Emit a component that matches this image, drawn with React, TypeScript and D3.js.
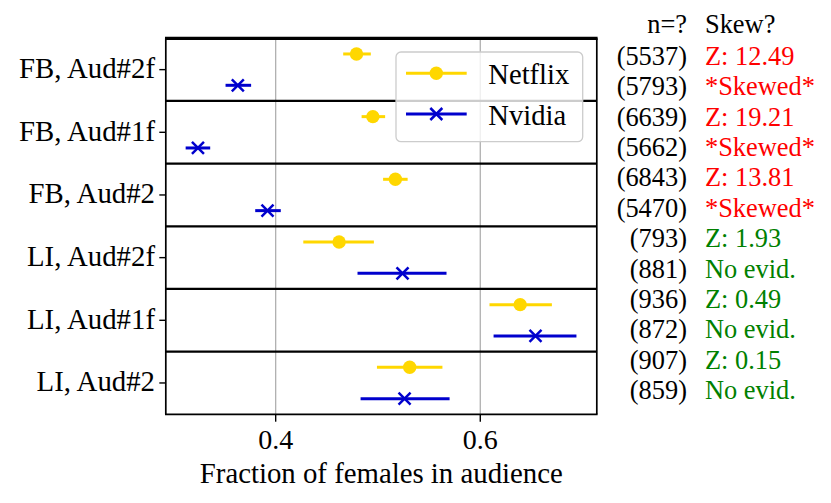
import React from "react";
import * as d3 from "d3";

const categories = ["FB, Aud#2f", "FB, Aud#1f", "FB, Aud#2", "LI, Aud#2f", "LI, Aud#1f", "LI, Aud#2"];
const netflixMean = [0.479, 0.495, 0.517, 0.462, 0.639, 0.531];
const netflixLo = [0.466, 0.484, 0.505, 0.427, 0.609, 0.499];
const netflixHi = [0.493, 0.507, 0.529, 0.496, 0.670, 0.563];
const nvidiaMean = [0.363, 0.324, 0.392, 0.524, 0.654, 0.526];
const nvidiaLo = [0.351, 0.312, 0.380, 0.480, 0.613, 0.483];
const nvidiaHi = [0.376, 0.336, 0.405, 0.567, 0.694, 0.570];
const netflixN = ["5537", "6639", "6843", "793", "936", "907"];
const nvidiaN = ["5793", "5662", "5470", "881", "872", "859"];
const zScores = ["12.49", "19.21", "13.81", "1.93", "0.49", "0.15"];
const verdicts = ["*Skewed*", "*Skewed*", "*Skewed*", "No evid.", "No evid.", "No evid."];
const skewed = [true, true, true, false, false, false];
const xTicks = [0.4, 0.6];
const seriesNames = ["Netflix", "Nvidia"];

const W = 831;
const H = 503;
const FONT = "'Liberation Serif', 'Times New Roman', serif";
const NETFLIX = "#ffd700";
const NVIDIA = "#0000cd";

export default function App() {
  const left = 165.8, right = 596.8, top = 38.3, bottom = 414.3;
  const x = d3.scaleLinear().domain([0.2926, 0.7139]).range([left, right]);
  const rows = d3.scaleBand<number>().domain(d3.range(categories.length)).range([top, bottom]);
  const rh = rows.bandwidth();
  const yNet = (i: number) => rows(i)! + rh * 0.25;
  const yNv = (i: number) => rows(i)! + rh * 0.75;
  const yMid = (i: number) => rows(i)! + rh / 2;

  const cross = (cx: number, cy: number, s: number, key: string) => (
    <g key={key} stroke={NVIDIA} strokeWidth={2.5}>
      <line x1={cx - s} y1={cy - s} x2={cx + s} y2={cy + s} />
      <line x1={cx - s} y1={cy + s} x2={cx + s} y2={cy - s} />
    </g>
  );

  const textLines: { n: string; s: string; red: boolean }[] = [];
  categories.forEach((_, i) => {
    textLines.push({ n: netflixN[i], s: "Z: " + zScores[i], red: skewed[i] });
    textLines.push({ n: nvidiaN[i], s: verdicts[i], red: skewed[i] });
  });
  const lineY = d3.scaleLinear().domain([0, textLines.length - 1]).range([65, 399]);

  return (
    <svg width={W} height={H} style={{ position: "absolute", left: 0, top: 0, background: "#fff" }} fontFamily={FONT}>
      <rect width={W} height={H} fill="#fff" />
      {/* gridlines */}
      {xTicks.map((t) => (
        <line key={"g" + t} x1={x(t)} x2={x(t)} y1={top} y2={bottom} stroke="#b0b0b0" strokeWidth={1.3} />
      ))}
      {/* data */}
      {categories.map((c, i) => (
        <g key={c}>
          <line x1={x(netflixLo[i])} x2={x(netflixHi[i])} y1={yNet(i)} y2={yNet(i)} stroke={NETFLIX} strokeWidth={3} />
          <circle cx={x(netflixMean[i])} cy={yNet(i)} r={6.7} fill={NETFLIX} />
          <line x1={x(nvidiaLo[i])} x2={x(nvidiaHi[i])} y1={yNv(i)} y2={yNv(i)} stroke={NVIDIA} strokeWidth={3} />
          {cross(x(nvidiaMean[i]), yNv(i), 6, "x" + i)}
        </g>
      ))}
      {/* row separators */}
      {categories.slice(1).map((_, k) => (
        <line key={"s" + k} x1={left} x2={right} y1={rows(k + 1)!} y2={rows(k + 1)!} stroke="#000" strokeWidth={2.2} />
      ))}
      {/* frame */}
      <line x1={left} x2={left} y1={top} y2={bottom} stroke="#000" strokeWidth={1.7} />
      <line x1={right} x2={right} y1={top} y2={bottom} stroke="#000" strokeWidth={1.7} />
      <line x1={left - 0.8} x2={right + 0.8} y1={bottom} y2={bottom} stroke="#000" strokeWidth={1.8} />
      <line x1={left - 0.8} x2={right + 0.8} y1={top} y2={top} stroke="#000" strokeWidth={3.3} />
      {/* y ticks & labels */}
      {categories.map((c, i) => (
        <g key={"yl" + i}>
          <line x1={left - 6.5} x2={left} y1={yMid(i)} y2={yMid(i)} stroke="#000" strokeWidth={1.4} />
          <text x={155} y={yMid(i) + 8.3} textAnchor="end" fontSize={28.8} fill="#000">{c}</text>
        </g>
      ))}
      {/* x ticks */}
      {xTicks.map((t) => (
        <g key={"xt" + t}>
          <line x1={x(t)} x2={x(t)} y1={bottom} y2={bottom + 7.4} stroke="#000" strokeWidth={1.4} />
          <text x={x(t)} y={449.3} textAnchor="middle" fontSize={28} fill="#000">{d3.format(".1f")(t)}</text>
        </g>
      ))}
      <text x={(left + right) / 2} y={483} textAnchor="middle" fontSize={28.8} fill="#000">Fraction of females in audience</text>
      {/* legend */}
      <g>
        <rect x={396} y={52} width={186.7} height={89.7} rx={5} ry={5} fill="#fff" fillOpacity={0.8} stroke="#cccccc" strokeWidth={1.3} />
        <line x1={406} x2={466.7} y1={73.3} y2={73.3} stroke={NETFLIX} strokeWidth={3} />
        <circle cx={436.3} cy={73.3} r={6.7} fill={NETFLIX} />
        <text x={488.3} y={84} fontSize={28.6} fill="#000">{seriesNames[0]}</text>
        <line x1={406} x2={466.7} y1={114} y2={114} stroke={NVIDIA} strokeWidth={3} />
        {cross(436.3, 114, 6, "lx")}
        <text x={488.3} y={124.5} fontSize={28.6} fill="#000">{seriesNames[1]}</text>
      </g>
      {/* right table */}
      <text x={687} y={33} textAnchor="end" fontSize={26.4} fill="#000">n=?</text>
      <text x={705} y={33} fontSize={26.4} fill="#000">Skew?</text>
      {textLines.map((l, k) => (
        <g key={"t" + k}>
          <text x={687} y={lineY(k)} textAnchor="end" fontSize={26.4} fill="#000">({l.n})</text>
          <text x={705} y={lineY(k)} fontSize={26.4} fill={l.red ? "#ff0000" : "#008000"}>{l.s}</text>
        </g>
      ))}
    </svg>
  );
}
